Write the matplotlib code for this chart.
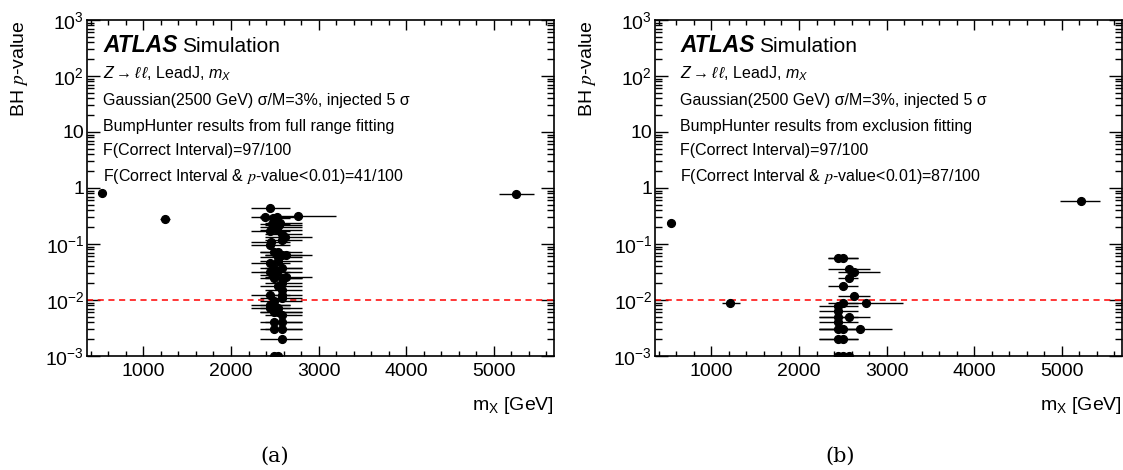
import numpy as np
import matplotlib
matplotlib.use("Agg")
import matplotlib.pyplot as plt
from matplotlib.ticker import FixedLocator, FuncFormatter, MultipleLocator

plt.rcParams['font.family'] = ['Liberation Sans', 'DejaVu Sans']
plt.rcParams['mathtext.fontset'] = 'custom'
plt.rcParams['mathtext.rm'] = 'Liberation Sans'
plt.rcParams['mathtext.it'] = 'Liberation Sans:italic'
plt.rcParams['mathtext.bf'] = 'Liberation Sans:bold'
plt.rcParams['mathtext.sf'] = 'Liberation Sans'

# ---------------- data: panel (a) full range fitting ----------------
a_mass = [523, 1246, 2763, 5258,
          2446, 2389, 2485, 2525, 2465, 2545, 2565, 2450, 2525, 2620, 2496, 2587,
          2455, 2585, 2446, 2496, 2542, 2587, 2626, 2542, 2542, 2446, 2496, 2587,
          2446, 2520, 2496, 2626, 2496, 2587, 2587, 2542, 2587, 2446, 2587, 2587,
          2496, 2446, 2496, 2446, 2542, 2496, 2542, 2587, 2496, 2587, 2496, 2587,
          2587, 2496, 2542]
a_lo = [493, 1190, 2330, 5056,
        2229, 2229, 2332, 2332, 2332, 2389, 2389, 2229, 2332, 2389, 2332, 2389,
        2229, 2389, 2229, 2332, 2332, 2389, 2389, 2332, 2332, 2229, 2332, 2389,
        2229, 2332, 2332, 2389, 2332, 2389, 2389, 2332, 2389, 2229, 2389, 2332,
        2332, 2229, 2332, 2229, 2332, 2332, 2332, 2389, 2332, 2389, 2332, 2389,
        2332, 2332, 2332]
a_hi = [553, 1302, 3197, 5464,
        2675, 2675, 2675, 2808, 2675, 2808, 2808, 2675, 2808, 2923, 2808, 2808,
        2675, 2808, 2675, 2675, 2808, 2808, 2923, 2808, 2808, 2675, 2808, 2808,
        2675, 2808, 2675, 2923, 2808, 2808, 2808, 2808, 2808, 2675, 2808, 2808,
        2808, 2675, 2675, 2675, 2808, 2808, 2808, 2808, 2808, 2808, 2808, 2808,
        2808, 2808, 2808]
a_pval = [0.82, 0.28, 0.32, 0.78,
          0.44, 0.30, 0.29, 0.30, 0.23, 0.22, 0.24, 0.17, 0.18, 0.135, 0.20, 0.15,
          0.11, 0.12, 0.096, 0.072, 0.072, 0.063, 0.063, 0.058, 0.05, 0.045, 0.037, 0.037,
          0.032, 0.032, 0.028, 0.026, 0.0246, 0.0246, 0.020, 0.0175, 0.015, 0.0123, 0.0123, 0.011,
          0.0095, 0.0081, 0.0081, 0.0071, 0.0071, 0.0062, 0.0062, 0.0054, 0.004, 0.004, 0.003, 0.003,
          0.002, 0.001, 0.001]

# ---------------- data: panel (b) exclusion fitting ----------------
b_mass = [534, 1212, 5224,
          2450, 2507, 2576, 2633, 2576, 2507, 2633, 2766, 2507, 2450, 2450, 2450, 2576,
          2450, 2450, 2507, 2698, 2450, 2507, 2450, 2507, 2576]
b_lo = [504, 1117, 4983,
        2335, 2335, 2335, 2450, 2450, 2335, 2450, 2507, 2335, 2233, 2233, 2233, 2233,
        2233, 2233, 2233, 2233, 2233, 2233, 2233, 2233, 2233]
b_hi = [564, 1326, 5440,
        2678, 2678, 2812, 2926, 2678, 2678, 2812, 3193, 2678, 2678, 2678, 2678, 2812,
        2678, 2678, 2678, 3060, 2678, 2678, 2926, 2926, 2926]
b_pval = [0.24, 0.0087, 0.59,
          0.057, 0.057, 0.036, 0.032, 0.025, 0.018, 0.012, 0.009, 0.009, 0.0079, 0.0064, 0.005, 0.005,
          0.004, 0.003, 0.003, 0.003, 0.002, 0.002, 0.001, 0.001, 0.001]

threshold = 0.01
xlim = (355, 5690)
ylim = (1e-3, 1e3)

panels = [
    dict(mass=a_mass, lo=a_lo, hi=a_hi, p=a_pval,
         fit="BumpHunter results from full range fitting",
         frac1="F(Correct Interval)=97/100",
         frac2="F(Correct Interval & $p$-value<0.01)=41/100", cap="(a)"),
    dict(mass=b_mass, lo=b_lo, hi=b_hi, p=b_pval,
         fit="BumpHunter results from exclusion fitting",
         frac1="F(Correct Interval)=97/100",
         frac2="F(Correct Interval & $p$-value<0.01)=87/100", cap="(b)"),
]

W, H = 1123, 470
fig = plt.figure(figsize=(W / 100, H / 100), dpi=100)

ax_left_px = [87, 655]
text_off_px = [16, 25]
ax_w_px = 467
ax_top, ax_bot = 20, 356


def ytick_fmt(v, pos):
    e = int(round(np.log10(v)))
    if e == 0:
        return '1'
    if e == 1:
        return '10'
    return r'$10^{%d}$' % e


for i, pn in enumerate(panels):
    l = ax_left_px[i]
    ax = fig.add_axes([l / W, (H - ax_bot) / H, ax_w_px / W, (ax_bot - ax_top) / H])
    m = np.array(pn['mass'], float)
    lo = np.array(pn['lo'], float)
    hi = np.array(pn['hi'], float)
    p = np.array(pn['p'], float)
    ax.errorbar(m, p, xerr=[m - lo, hi - m], fmt='o', color='black', ms=5.6,
                elinewidth=1.0, capsize=0, zorder=3)
    ax.axhline(threshold, color='red', ls=(0, (4, 3)), lw=1.1, zorder=2)
    ax.set_yscale('log')
    ax.set_xlim(*xlim)
    ax.set_ylim(*ylim)

    ax.xaxis.set_major_locator(MultipleLocator(1000))
    ax.xaxis.set_minor_locator(MultipleLocator(200))
    ax.yaxis.set_major_locator(FixedLocator([1e-3, 1e-2, 1e-1, 1, 10, 100, 1000]))
    ax.yaxis.set_minor_locator(FixedLocator([k * 10.0 ** e for e in range(-3, 3) for k in range(2, 10)]))
    ax.yaxis.set_major_formatter(FuncFormatter(ytick_fmt))
    ax.yaxis.set_minor_formatter(FuncFormatter(lambda v, pos: ''))
    ax.tick_params(which='both', direction='in', top=True, right=True, labelsize=14, width=1.0, color='black')
    ax.tick_params(axis='x', which='major', length=7.5, pad=5)
    ax.tick_params(axis='x', which='minor', length=3.8)
    ax.tick_params(axis='y', which='major', length=9.5, pad=2)
    ax.tick_params(axis='y', which='minor', length=5)
    for s in ax.spines.values():
        s.set_linewidth(1.2)

    # axis titles
    fig.text((l - 67) / W, 1 - ax_top / H, 'BH $p$-value', rotation=90, ha='center', va='top',
             fontsize=14, math_fontfamily='stix')
    fig.text((l + ax_w_px) / W, 1 - 405 / H, r'm$_{\mathrm{X}}$ [GeV]', ha='right', va='center', fontsize=14)

    # annotations
    tr = ax.transAxes
    x0 = text_off_px[i] / ax_w_px
    ax.text(x0, (356 - 46) / 336, 'ATLAS', transform=tr, fontsize=16.5,
            fontweight='bold', fontstyle='italic', va='center', ha='left')
    ax.text(x0 + 79 / ax_w_px, (356 - 46) / 336, 'Simulation', transform=tr, fontsize=15,
            va='center', ha='left')
    ax.text(x0, (356 - 74) / 336, r'$Z \rightarrow \ell\,\ell$, LeadJ, $m_{X}$', transform=tr,
            fontsize=11.5, va='center', ha='left')
    ax.text(x0, (356 - 101) / 336, 'Gaussian(2500 GeV) σ/M=3%, injected 5 σ', transform=tr,
            fontsize=11.5, va='center', ha='left')
    ax.text(x0, (356 - 126) / 336, pn['fit'], transform=tr, fontsize=11.5, va='center', ha='left')
    ax.text(x0, (356 - 151) / 336, pn['frac1'], transform=tr, fontsize=11.5, va='center', ha='left')
    ax.text(x0, (356 - 176) / 336, pn['frac2'], transform=tr, fontsize=11.5, va='center', ha='left',
            math_fontfamily='stix')

    # caption
    fig.text((275 + 565 * i) / W, 1 - 456 / H, pn['cap'], ha='center', va='center', fontsize=15,
             family=['DejaVu Serif'])

fig.savefig('out.png', dpi=100)
